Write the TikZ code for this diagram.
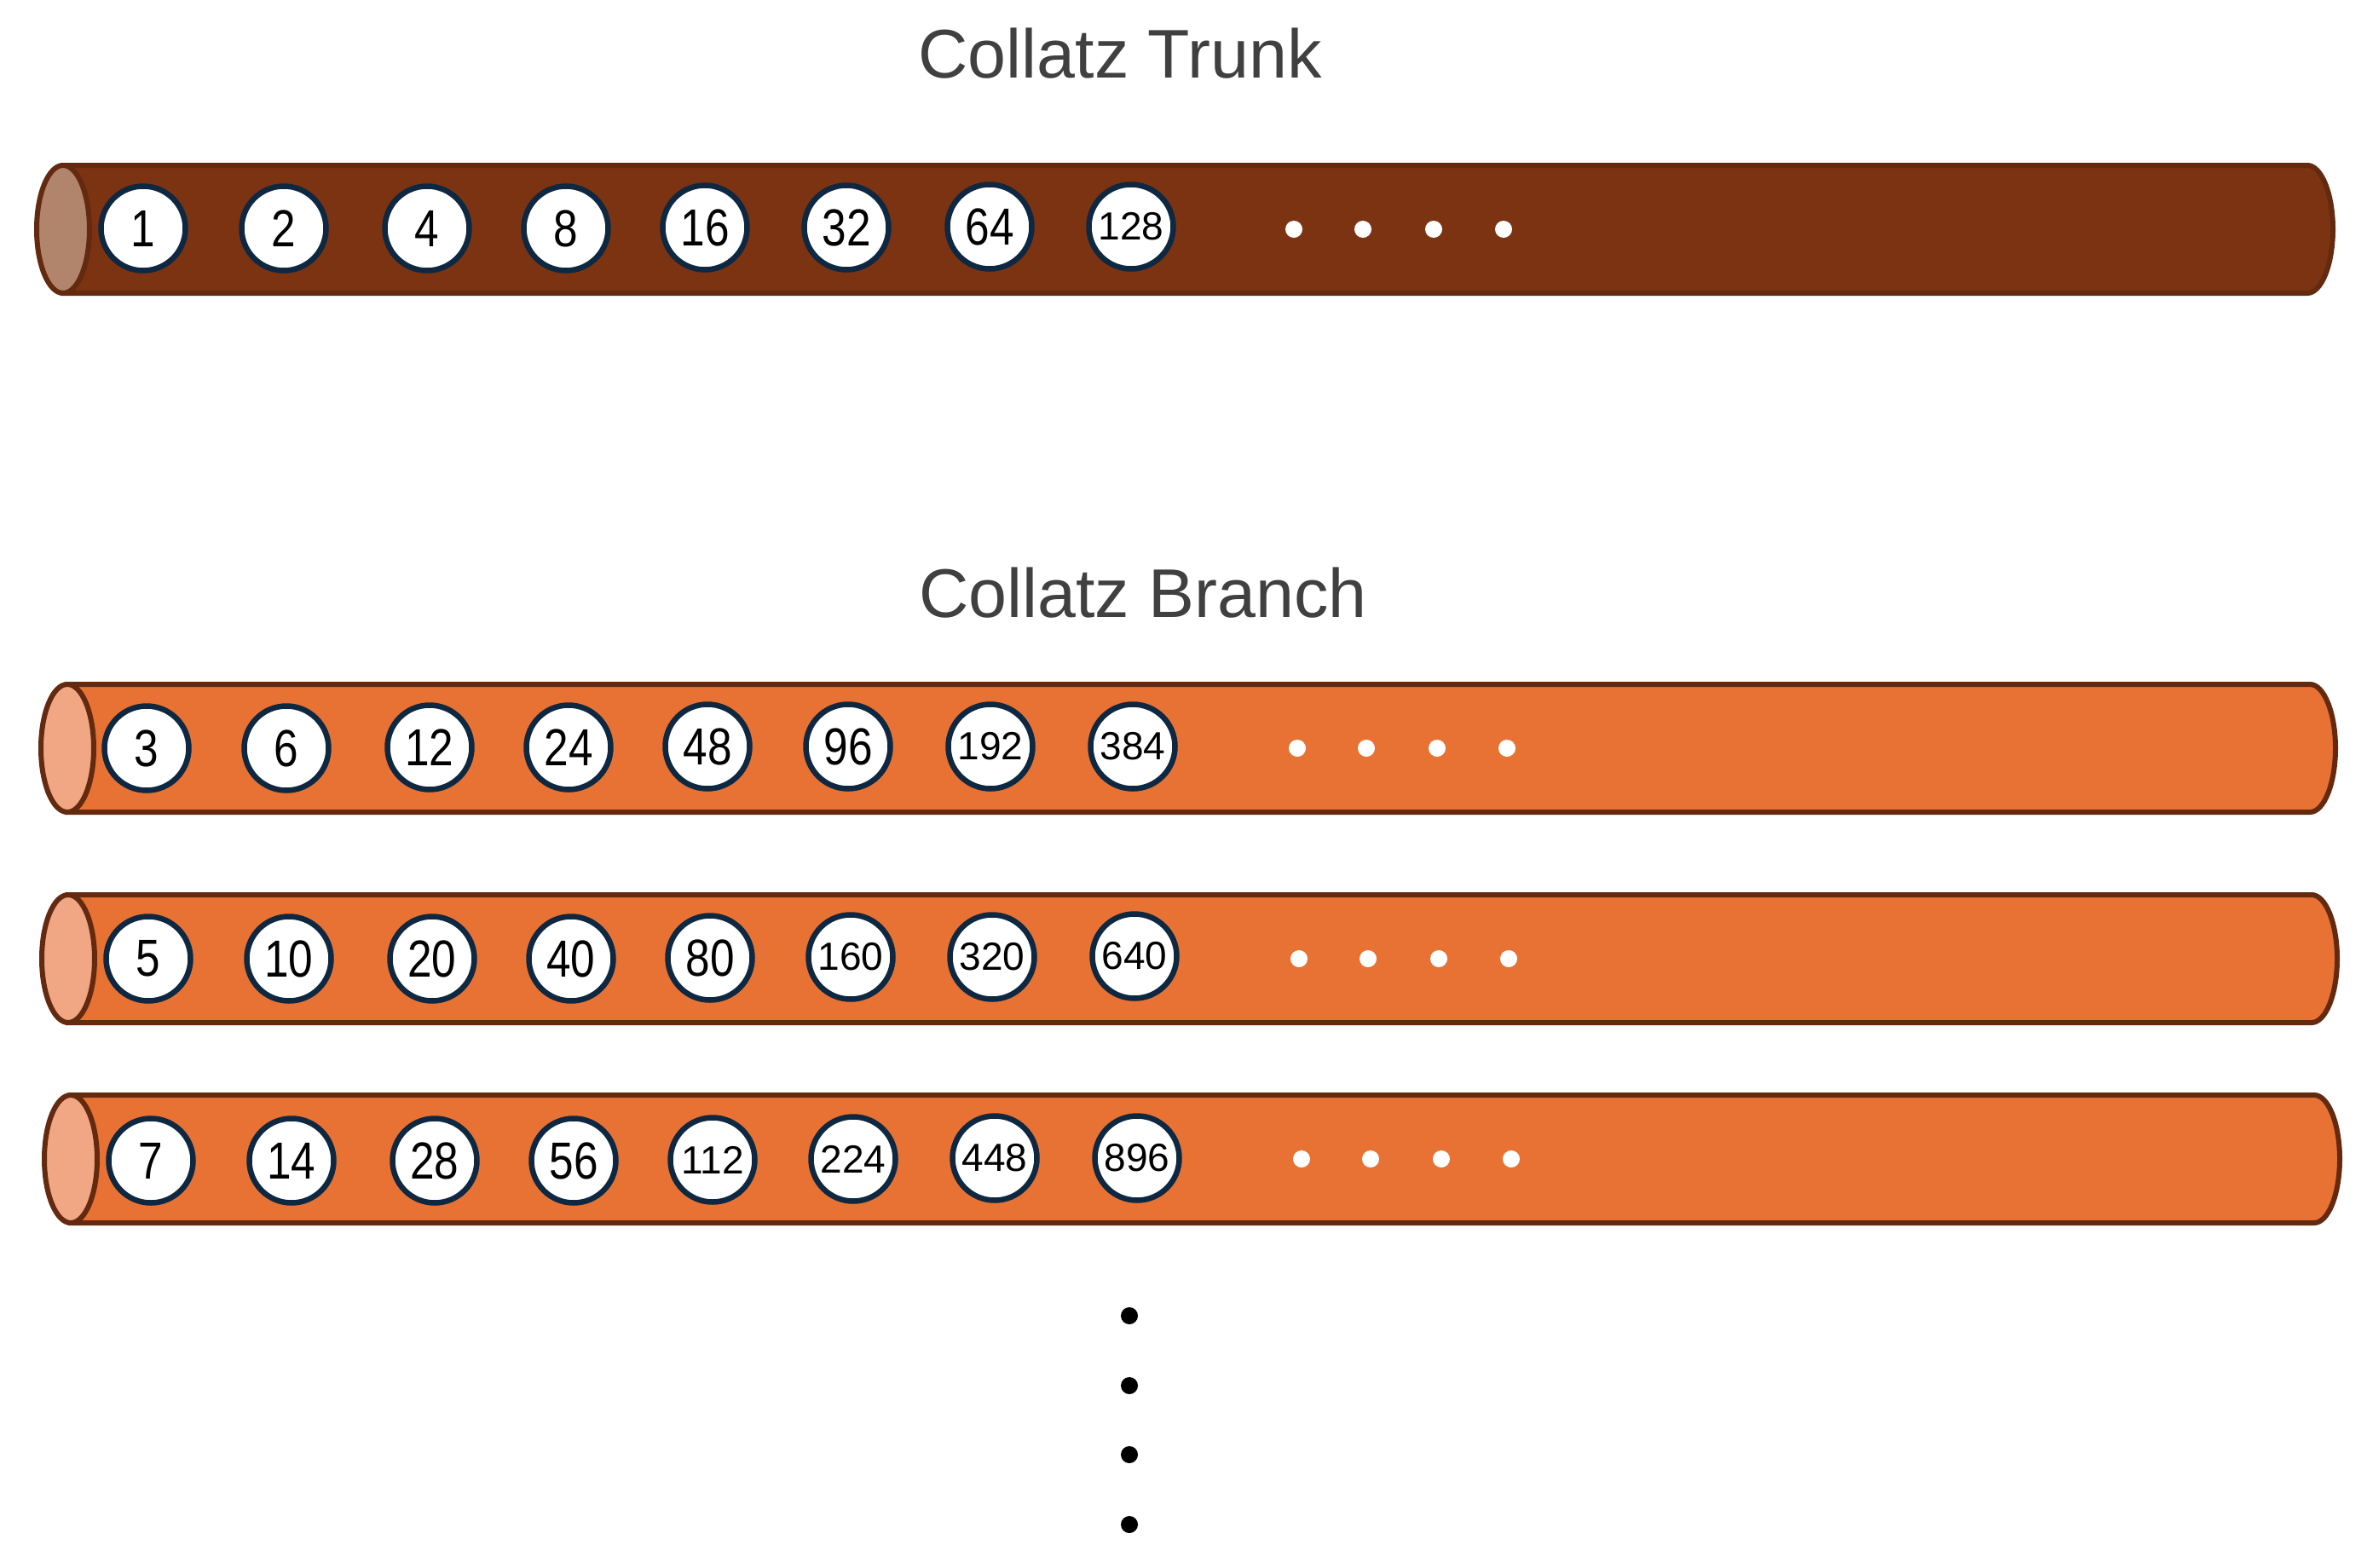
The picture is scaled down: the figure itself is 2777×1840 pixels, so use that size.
\documentclass[tikz,border=0pt]{standalone}
\usepackage{fontspec}
\setmainfont{Liberation Sans}
\newfontfamily\numfont[FakeStretch=0.84]{Liberation Sans}
\definecolor{TrunkFill}{HTML}{7C3311}
\definecolor{TrunkEnd}{HTML}{B0856B}
\definecolor{BranchFill}{HTML}{E87233}
\definecolor{BranchEnd}{HTML}{F1A684}
\definecolor{Rim}{HTML}{632A10}
\definecolor{NumRim}{HTML}{0E2841}
\definecolor{TitleGray}{HTML}{404040}

\begin{document}
\begin{tikzpicture}[x=0.1mm,y=-0.1mm,
    num/.style={circle, draw=NumRim, line width=0.65mm, fill=white, minimum size=9.9mm, inner sep=0pt, font=\numfont\fontsize{17.4}{17}\selectfont},
    bignum/.style={num, font=\fontsize{13.1}{13}\selectfont},
    title/.style={font=\fontsize{23}{26}\selectfont, text=TitleGray, anchor=base},
    tube/.style={draw=Rim, line width=0.6mm},
    dot/.style={fill=white}]
        \useasboundingbox (0,0) rectangle (2777,1840);
        \node[title] (trunk) at (1314,92) {Collatz Trunk};
        \node[title] (branch) at (1341,724) {Collatz Branch};
        % trunk
        \draw [tube, fill=TrunkFill] (74,194) -- (2707,194) arc[start angle=90, end angle=-90, x radius=3mm, y radius=7.5mm] -- (74,344) -- cycle;
        \draw [tube, fill=TrunkEnd] (74,269) ellipse [x radius=3.1mm, y radius=7.5mm];
        \node[num] (n1) at (168,268) {1};
        \node[num] (n2) at (333,268) {2};
        \node[num] (n4) at (501,268) {4};
        \node[num] (n8) at (664,268) {8};
        \node[num] (n16) at (827,267) {16};
        \node[num] (n32) at (993,267) {32};
        \node[num] (n64) at (1161,266) {64};
        \node[bignum] (n128) at (1327,266) {128};
        \fill [dot] (1518,269) circle (1mm) (1599,269) circle (1mm) (1682,269) circle (1mm) (1764,269) circle (1mm);
        % branch of 3
        \draw [tube, fill=BranchFill] (79,803) -- (2710,803) arc[start angle=90, end angle=-90, x radius=3mm, y radius=7.5mm] -- (79,953) -- cycle;
        \draw [tube, fill=BranchEnd] (79,878) ellipse [x radius=3.1mm, y radius=7.5mm];
        \node[num] (n3) at (172,878) {3};
        \node[num] (n6) at (336,878) {6};
        \node[num] (n12) at (504,877) {12};
        \node[num] (n24) at (667,877) {24};
        \node[num] (n48) at (830,876) {48};
        \node[num] (n96) at (995,876) {96};
        \node[bignum] (n192) at (1162,876) {192};
        \node[bignum] (n384) at (1329,876) {384};
        \fill [dot] (1522,878) circle (1mm) (1603,878) circle (1mm) (1686,878) circle (1mm) (1768,878) circle (1mm);
        % branch of 5
        \draw [tube, fill=BranchFill] (80,1050) -- (2712,1050) arc[start angle=90, end angle=-90, x radius=3mm, y radius=7.5mm] -- (80,1200) -- cycle;
        \draw [tube, fill=BranchEnd] (80,1125) ellipse [x radius=3.1mm, y radius=7.5mm];
        \node[num] (n5) at (174,1125) {5};
        \node[num] (n10) at (339,1125) {10};
        \node[num] (n20) at (507,1125) {20};
        \node[num] (n40) at (670,1125) {40};
        \node[num] (n80) at (833,1124) {80};
        \node[bignum] (n160) at (998,1123) {160};
        \node[bignum] (n320) at (1164,1123) {320};
        \node[bignum] (n640) at (1331,1122) {640};
        \fill [dot] (1524,1125) circle (1mm) (1605,1125) circle (1mm) (1688,1125) circle (1mm) (1770,1125) circle (1mm);
        % branch of 7
        \draw [tube, fill=BranchFill] (83,1285) -- (2715,1285) arc[start angle=90, end angle=-90, x radius=3mm, y radius=7.5mm] -- (83,1435) -- cycle;
        \draw [tube, fill=BranchEnd] (83,1360) ellipse [x radius=3.1mm, y radius=7.5mm];
        \node[num] (n7) at (177,1362) {7};
        \node[num] (n14) at (342,1362) {14};
        \node[num] (n28) at (510,1362) {28};
        \node[num] (n56) at (673,1362) {56};
        \node[bignum] (n112) at (836,1361) {112};
        \node[bignum] (n224) at (1001,1360) {224};
        \node[bignum] (n448) at (1167,1359) {448};
        \node[bignum] (n896) at (1334,1359) {896};
        \fill [dot] (1527,1360) circle (1mm) (1608,1360) circle (1mm) (1691,1360) circle (1mm) (1773,1360) circle (1mm);
        % more branches
        \fill (1325,1544) circle (1mm) (1325,1626) circle (1mm) (1325,1707) circle (1mm) (1325,1789) circle (1mm);
    \end{tikzpicture}
\end{document}
